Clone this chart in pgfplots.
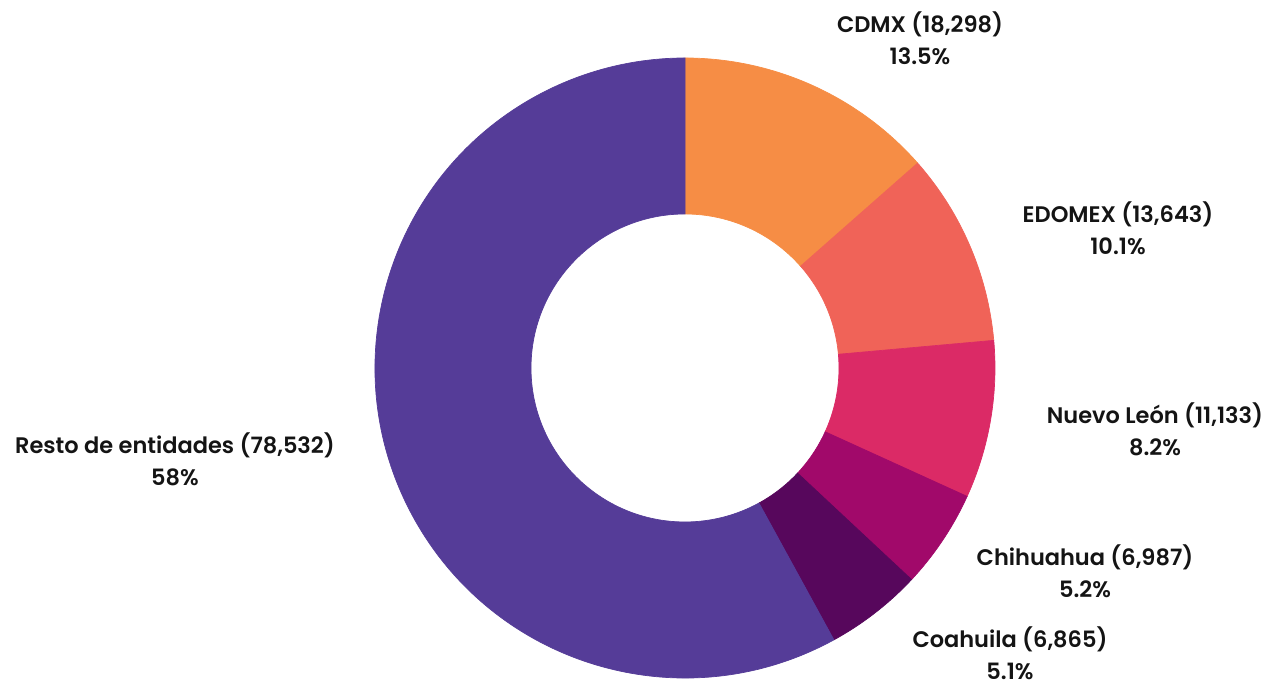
\documentclass[border=0pt]{standalone}
\usepackage{fontspec}
\setmainfont{Poppins}[UprightFont=* SemiBold]
\usepackage{pgfplots}
\pgfplotsset{compat=1.18}
\usepackage{pgfplotstable}
\definecolor{c0}{HTML}{F68D45}
\definecolor{c1}{HTML}{F06358}
\definecolor{c2}{HTML}{DB2A66}
\definecolor{c3}{HTML}{A1096A}
\definecolor{c4}{HTML}{57075C}
\definecolor{c5}{HTML}{553C98}

\pgfplotstableread[col sep=comma]{
value
18298
13643
11133
6987
6865
78532
}\slices

% cumulative angles, clockwise from 12 o'clock (total 135458)
\gdef\angA{90}
\pgfplotsforeachungrouped \i in {0,...,5}{%
  \pgfplotstablegetelem{\i}{value}\of\slices
  \expandafter\xdef\csname aS\i\endcsname{\angA}%
  \xdef\angA{\fpeval{round(\angA-360*\pgfplotsretval/135458,3)}}%
  \expandafter\xdef\csname aE\i\endcsname{\angA}%
}

\begin{document}
\begin{tikzpicture}
\begin{axis}[
  width=12.75cm, height=6.82cm, scale only axis,
  xmin=0, xmax=1275, ymin=0, ymax=682,
  hide axis, clip=false]
\coordinate (C) at (axis cs:685,314);
\pgfplotsinvokeforeach{0,...,5}{
  \fill[c#1, draw=c#1, line width=0.2pt]
    ([shift={(\csname aS#1\endcsname:31mm)}]C)
    arc[start angle=\csname aS#1\endcsname, end angle=\csname aE#1\endcsname, radius=31mm]
    -- ([shift={(\csname aE#1\endcsname:15.4mm)}]C)
    arc[start angle=\csname aE#1\endcsname, end angle=\csname aS#1\endcsname, radius=15.4mm]
    -- cycle;
}
\begin{scope}[every node/.style={font=\fontsize{6.4}{9}\selectfont, align=center, text=black!92, inner sep=0pt}]
\node at (axis cs:920,644) {CDMX (18,298)\\13.5\%};
\node at (axis cs:1118,454) {EDOMEX (13,643)\\10.1\%};
\node at (axis cs:1155,253) {Nuevo León (11,133)\\8.2\%};
\node at (axis cs:1085,111) {Chihuahua (6,987)\\5.2\%};
\node at (axis cs:1010,29) {Coahuila (6,865)\\5.1\%};
\node at (axis cs:175,223) {Resto de entidades (78,532)\\58\%};
\end{scope}
\end{axis}
\pgfresetboundingbox
\useasboundingbox (current axis.south west) rectangle (current axis.north east);
\end{tikzpicture}
\end{document}
